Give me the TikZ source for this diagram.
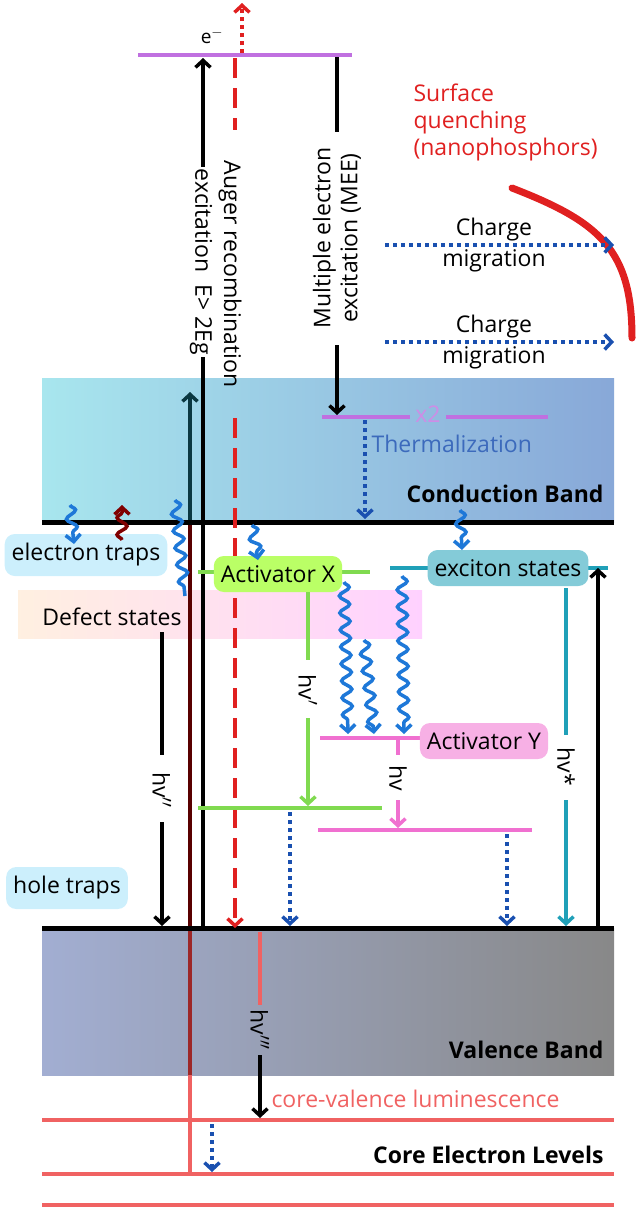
\documentclass[tikz,border=0pt]{standalone}
\usepackage{fontspec}
\setmainfont{Open Sans}
\usetikzlibrary{arrows.meta,decorations.pathmorphing,shapes.misc}
\definecolor{cbL}{HTML}{A8E6EE}
\definecolor{cbR}{HTML}{88A8D8}
\definecolor{vbL}{HTML}{A2AED2}
\definecolor{vbR}{HTML}{888888}
\definecolor{wavy}{HTML}{1E78D8}
\definecolor{dotb}{HTML}{1A50B0}
\definecolor{lvred}{HTML}{F06262}
\definecolor{augr}{HTML}{E02020}
\definecolor{grn}{HTML}{80DA50}
\definecolor{pnk}{HTML}{F070D0}
\definecolor{teal}{HTML}{20A0B8}
\definecolor{purp}{HTML}{C070E0}
\tikzset{
  tip/.style={-{Straight Barb[length=7pt,width=15pt,line width=3.5pt]}},
  lev/.style={line width=4pt},
  band/.style={line width=5pt},
  dotarr/.style={tip, dotb, line width=4.5pt, dash pattern=on 4pt off 4pt},
  wav/.style={wavy, line width=3.5pt, decorate,
    decoration={snake, amplitude=5pt, segment length=17pt, post length=6pt}},
  lbl/.style={font=\fontsize{23}{27}\selectfont},
  bold/.style={font=\fontsize{23}{27}\selectfont\bfseries, anchor=east},
  box/.style={rounded corners=10pt, lbl, inner xsep=7pt, minimum height=42pt},
}
\begin{document}
\begin{tikzpicture}[x=1pt,y=-1pt, line cap=butt]
\useasboundingbox (0,0) rectangle (640,1208);

% bands
\shade[left color=cbL, right color=cbR] (42,378) rectangle (614,522);
\shade[left color=vbL, right color=vbR] (42,928) rectangle (614,1075);
\shade[left color=orange!12, right color=magenta!18] (18,590) rectangle (422,638);
\node[bold] (cbname) at (607,494) {Conduction Band};
\node[bold] (vbname) at (607,1050) {Valence Band};
\node[bold] (corename) at (607,1155) {Core Electron Levels};

% core levels
\foreach \y in {1120,1174,1205}
  \draw[lev, lvred] (42,\y) -- (614,\y);

% long transition from core level into the conduction band
\draw[line width=4pt, lvred] (190,1174) -- (190,928);
\draw[line width=4pt, red!40!black, opacity=.6] (190,928) -- (190,1075);
\draw[line width=4pt, red!35!black] (190,928) -- (190,522);
\draw[tip, line width=4pt, teal!35!black] (190,522) -- (190,392);

% band edges
\draw[band] (42,522) -- (614,522);
\draw[band] (42,928) -- (614,928);

% top level and excitation
\draw[lev, purp] (138,55) -- (352,55);
\node[font=\fontsize{19}{22}\selectfont] (elec) at (212,36) {e$^{-}$};
\draw[tip, line width=4pt] (203,928) -- (203,58);
\node[lbl, rotate=-90, fill=white, inner sep=2pt] (exc) at (201,262) {excitation\ \ E> 2Eg};
\draw[line width=4pt, augr, dash pattern=on 20pt off 10pt] (235,58) -- (235,130);
\draw[tip, line width=4pt, augr, dash pattern=on 20pt off 10pt] (235,418) -- (235,928);
\node[lbl, rotate=-90] (aug) at (230,274) {Auger recombination};
\draw[tip, line width=4pt, augr, dash pattern=on 4pt off 4pt] (242,53) -- (242,3);

% MEE
\draw[line width=4pt] (337,57) -- (337,132);
\draw[tip, line width=4pt] (337,345) -- (337,415);
\node[lbl, rotate=90, align=center] (mee) at (337,238) {Multiple electron\\excitation (MEE)};
\draw[lev, purp] (322,417) -- (410,417);
\draw[lev, purp] (446,417) -- (548,417);
\node[lbl, purp!80] (x2) at (428,414) {x2};
\draw[dotarr] (365,420) -- (365,519);
\node[lbl, dotb!85, anchor=west] (therm) at (368,444) {Thermalization};

% surface quenching
\node[lbl, augr, align=left, anchor=north west] (sq) at (410,80) {Surface\\quenching\\(nanophosphors)};
\draw[line width=7pt, augr, line cap=round] (512,188) .. controls (600,222) and (632,250) .. (632,338);
\foreach \y in {245,342}{
  \draw[dotarr] (385,\y) -- (614,\y);
  \node[lbl, align=center] at (494,\y) {Charge\\[4pt]migration};
}

% traps and defect states
\node[box, fill=cyan!20] (etrap) at (86,555) {electron traps};
\node[lbl] (defect) at (112,617) {Defect states};
\node[box, fill=cyan!20] (htrap) at (67,888) {hole traps};

% activator X
\draw[lev, grn] (198,572) -- (370,572);
\node[box, fill=green!45!yellow!60, minimum height=36pt] (actx) at (278,574) {Activator X};
\draw[line width=4pt, grn] (308,592) -- (308,660);
\draw[tip, line width=4pt, grn] (308,718) -- (308,806);
\node[lbl, rotate=-90] (hv1) at (308,690) {hv$'$};
\draw[lev, grn] (198,808) -- (382,808);

% exciton states
\draw[lev, teal] (390,568) -- (608,568);
\node[box, fill=teal!55, minimum height=36pt] (exciton) at (508,568) {exciton states};
\draw[line width=4pt, teal] (566,588) -- (566,735);
\draw[tip, line width=4pt, teal] (566,800) -- (566,926);
\node[lbl, rotate=-90] (hvs) at (566,767) {hv*};
\draw[tip, line width=4pt] (598,928) -- (598,568);

% activator Y
\draw[lev, pnk] (320,738) -- (432,738);
\node[box, fill=pnk!55, minimum height=36pt] (acty) at (484,741) {Activator Y};
\draw[line width=4pt, pnk] (398,740) -- (398,755);
\draw[tip, line width=4pt, pnk] (398,800) -- (398,828);
\node[lbl, rotate=-90] (hv0) at (398,778) {hv};
\draw[lev, pnk] (318,830) -- (532,830);

% hv''
\draw[line width=4pt] (162,632) -- (162,755);
\draw[tip, line width=4pt] (162,822) -- (162,926);
\node[lbl, rotate=-90] (hv2) at (162,790) {hv$''$};

% non-radiative relaxation
\draw[dotarr] (290,812) -- (290,926);
\draw[dotarr] (507,834) -- (507,926);
\draw[dotarr] (212,1124) -- (212,1172);

% hv'''
\draw[line width=4pt, lvred] (260,932) -- (260,1005);
\draw[tip, line width=4pt] (260,1055) -- (260,1118);
\node[lbl, rotate=-90] (hv3) at (260,1030) {hv$'''$};
\node[lbl, lvred, anchor=west] (cvl) at (268,1099) {core-valence luminescence};

% wavy arrows
\draw[wav, tip] (70,505) -- (74,544);
\draw[wav, tip, red!50!black] (122,540) -- (122,505);
\draw[wav] (175,500) -- (185,596);
\draw[wav, tip] (252,525) -- (258,560);
\draw[wav, tip] (460,510) -- (462,550);
\draw[wav, tip] (344,582) -- (348,734);
\draw[wav, tip] (364,640) -- (374,734);
\draw[wav, tip] (402,576) -- (404,734);
\end{tikzpicture}
\end{document}
